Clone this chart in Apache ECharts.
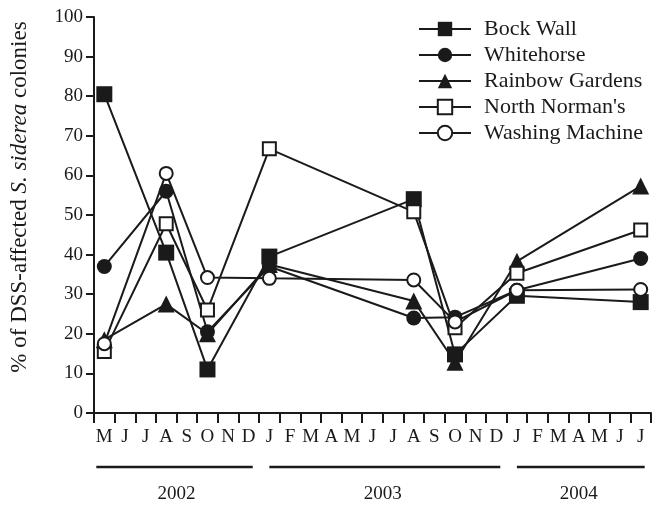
<!DOCTYPE html>
<html lang="en">
<head>
  <meta charset="UTF-8">
  <title>DSS-affected S. siderea colonies</title>
  <style>
    html, body { margin: 0; padding: 0; background: #fff; }
    #chart { width: 655px; height: 506px; }
  </style>
  <script src="https://cdn.jsdelivr.net/npm/echarts@6/dist/echarts.min.js"></script>
</head>
<body>
  <div id="chart"></div>
  <script>
    // months from May 2002 to July 2004
    const months = ['M','J','J','A','S','O','N','D',
                    'J','F','M','A','M','J','J','A','S','O','N','D',
                    'J','F','M','A','M','J','J'];
    const years = ['2002', '2003', '2004'];
    const yearStart = [0, 8, 20];   // first month index of each year
    const yearEnd = [7, 19, 26];    // last month index of each year

    // sampling months (index into months)
    const sampleIdx = [0, 3, 5, 8, 15, 17, 20, 26];

    const bockWall = [80.5, 40.5, 11, 39.5, 54, 14.8, 29.6, 28];
    const whitehorse = [37, 56, 20.5, 37, 24, 24.2, 31, 39];
    const rainbowGardens = [18.5, 27.5, 20, 37.5, 28.3, 12.8, 38.3, 57.3];
    const northNormans = [15.5, 47.8, 26, 66.7, 50.8, 21.5, 35.3, 46.2];
    const washingMachine = [17.5, 60.5, 34.2, 34, 33.6, 23, 31, 31.2];

    const serif = 'Liberation Serif';
    const ink = '#1a1a1a';

    function toSeries(values) {
      const arr = months.map(() => null);
      sampleIdx.forEach((m, i) => { arr[m] = values[i]; });
      return arr;
    }

    function lineSeries(name, values, symbol, size, filled) {
      return {
        name: name,
        type: 'line',
        data: toSeries(values),
        connectNulls: true,
        symbol: symbol,
        symbolSize: size,
        showAllSymbol: true,
        lineStyle: { color: ink, width: 2 },
        itemStyle: {
          color: filled ? ink : '#fff',
          borderColor: ink,
          borderWidth: filled ? 0 : 2
        },
        emphasis: { disabled: true },
        animation: false
      };
    }

    const myChart = echarts.init(document.getElementById('chart'));

    const option = {
      animation: false,
      grid: { left: 91, right: 4, top: 17, bottom: 93 },
      legend: {
        orient: 'vertical',
        left: 413,
        top: 13,
        itemWidth: 52,
        itemHeight: 18,
        itemGap: 4,
        textStyle: { fontFamily: serif, fontSize: 22, color: ink, padding: [0, 0, 0, 8] },
        data: ['Bock Wall', 'Whitehorse', 'Rainbow Gardens', "North Norman's", 'Washing Machine']
      },
      xAxis: {
        type: 'category',
        data: months,
        boundaryGap: true,
        axisLine: { lineStyle: { color: ink, width: 2 } },
        axisTick: { show: true, inside: false, length: 10, alignWithLabel: false, lineStyle: { color: ink, width: 2 } },
        axisLabel: { interval: 0, margin: 15, fontFamily: serif, fontSize: 19, color: ink },
        splitLine: { show: false }
      },
      yAxis: {
        type: 'value',
        min: 0,
        max: 100,
        interval: 10,
        name: '{n|% of DSS-affected }{i|S. siderea}{n| colonies}',
        nameLocation: 'middle',
        nameGap: 63,
        nameRotate: 90,
        nameTextStyle: {
          padding: [0, 0, 0, 36],
          rich: {
            n: { fontFamily: serif, fontSize: 23, color: ink },
            i: { fontFamily: serif, fontSize: 23, fontStyle: 'italic', color: ink }
          }
        },
        axisLine: { show: true, lineStyle: { color: ink, width: 2 } },
        axisTick: { show: true, length: 8, lineStyle: { color: ink, width: 2 } },
        axisLabel: { margin: 11, fontFamily: serif, fontSize: 19, color: ink },
        splitLine: { show: false }
      },
      series: [
        lineSeries('Bock Wall', bockWall, 'rect', 16, true),
        lineSeries('Whitehorse', whitehorse, 'circle', 15, true),
        lineSeries('Rainbow Gardens', rainbowGardens, 'triangle', 17, true),
        lineSeries("North Norman's", northNormans, 'rect', 13, false),
        lineSeries('Washing Machine', washingMachine, 'circle', 13, false)
      ]
    };

    myChart.setOption(option);

    // year bars and year labels under the month labels
    const graphics = [];
    const barY = 467;
    years.forEach((yr, i) => {
      const x0 = myChart.convertToPixel({ xAxisIndex: 0 }, yearStart[i]);
      const x1 = myChart.convertToPixel({ xAxisIndex: 0 }, yearEnd[i]);
      graphics.push({
        type: 'line',
        shape: { x1: i === 0 ? x0 - 8 : x0, y1: barY, x2: x1 + 4, y2: barY },
        style: { stroke: ink, lineWidth: 2.5 },
        silent: true
      });
      graphics.push({
        type: 'text',
        x: (x0 + x1) / 2,
        y: barY + 27,
        style: {
          text: yr,
          fontFamily: serif,
          fontSize: 19,
          fill: ink,
          align: 'center',
          verticalAlign: 'middle'
        },
        silent: true
      });
    });
    myChart.setOption({ graphic: graphics });
  </script>
</body>
</html>
